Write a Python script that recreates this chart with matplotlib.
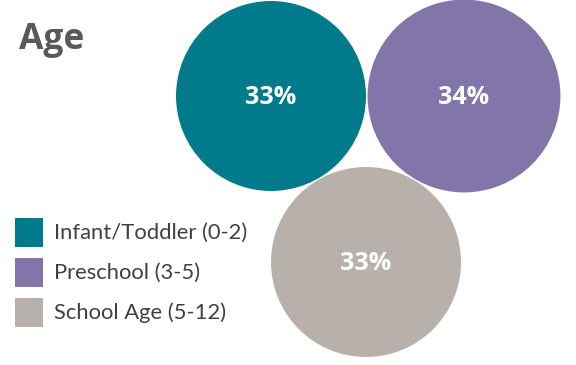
import numpy as np
import matplotlib.pyplot as plt
from matplotlib.patches import Circle, Rectangle

categories = ["Infant/Toddler (0-2)", "Preschool (3-5)", "School Age (5-12)"]
shares = [33, 34, 33]
colors = ["#017B8B", "#8275A9", "#B8B0AB"]

plt.rcParams['font.family'] = ['Lato', 'DejaVu Sans']

fig = plt.figure(figsize=(5.76, 3.65), dpi=100)
ax = fig.add_axes([0, 0, 1, 1])
ax.set_xlim(0, 576)
ax.set_ylim(365, 0)
ax.set_aspect('equal')
ax.axis('off')

# bubble layout (pixel space), radius scaled by sqrt of share
centers = [(271, 96), (464, 96), (366, 262)]
base_r = 95
for (cx, cy), v, c in zip(centers, shares, colors):
    r = base_r * np.sqrt(v / min(shares))
    ax.add_patch(Circle((cx, cy), r, color=c, lw=0))
    ax.text(cx, cy + 1, f"{v}%", color="white", fontsize=18, fontweight="bold",
            family=["Open Sans", "DejaVu Sans"], ha="center", va="center")

ax.text(19, 40, "Age", color="#595959", fontsize=25.5, fontweight="bold",
        family=["Open Sans", "DejaVu Sans"], ha="left", va="center")

# legend
for i, (lab, c) in enumerate(zip(categories, colors)):
    y = 218 + i * 40
    ax.add_patch(Rectangle((15, y), 28, 29, color=c, lw=0))
    ax.text(54, y + 15, lab, color="#404040", fontsize=15.8,
            ha="left", va="center")

fig.savefig("out.png", dpi=100)
